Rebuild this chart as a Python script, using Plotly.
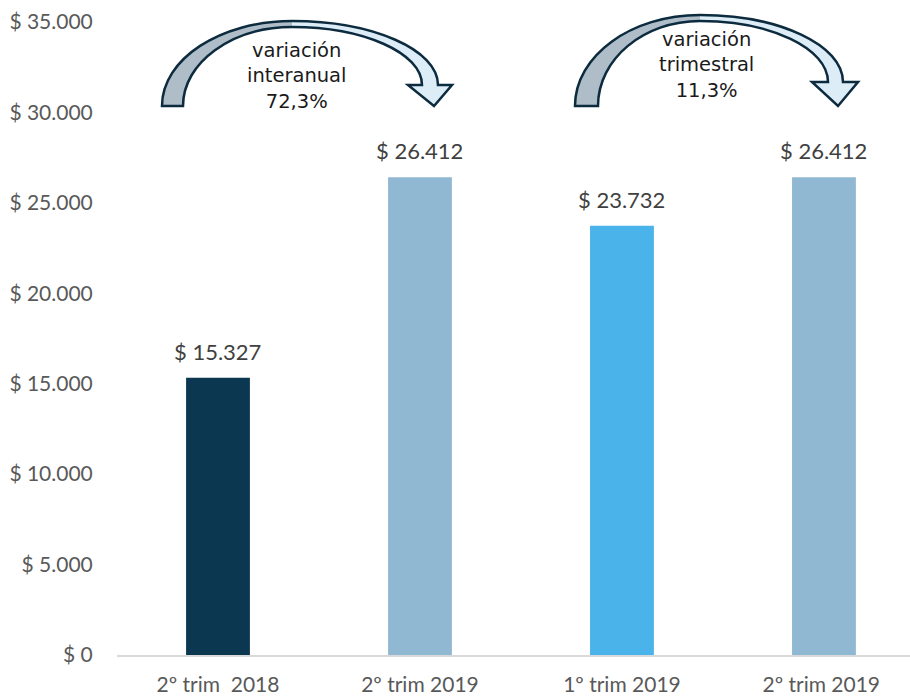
import plotly.graph_objects as go

categories = ["2º trim \u00a02018", "2º trim 2019", "1º trim 2019", "2º trim 2019 "]
values = [15327, 26412, 23732, 26412]
bar_colors = ["#0B3850", "#91B8D2", "#4AB3EA", "#91B8D2"]
tick_vals = [0, 5000, 10000, 15000, 20000, 25000, 30000, 35000]
tick_text = ["$ 0", "$ 5.000", "$ 10.000", "$ 15.000", "$ 20.000", "$ 25.000", "$ 30.000", "$ 35.000"]
bar_labels = ["$ " + f"{v:,}".replace(",", ".") for v in values]
arrow_texts = ["variación<br>interanual<br>72,3%", "variación<br>trimestral<br>11,3%"]

W, H = 910, 697
L, R, T, B = 117, 0, 22, 42
PW, PH = W - L - R, H - T - B

def P(px, py):
    return f"{(px - L) / PW:.5f},{(H - B - py) / PH:.5f}"

k = 0.5523

def arrow_paths(lo, li, bot, to, ti, cx, ro, ri, hy, wl, wr, tipx):
    left = (f"M {P(lo, bot)} C {P(lo, bot - k*(bot - to))} {P(cx - k*(cx - lo), to)} {P(cx, to)} "
            f"L {P(cx, ti)} C {P(cx - k*(cx - li), ti)} {P(li, bot - k*(bot - ti))} {P(li, bot)} Z")
    right = (f"M {P(cx, to)} C {P(cx + k*(ro - cx), to)} {P(ro, hy - k*(hy - to))} {P(ro, hy)} "
             f"L {P(wr, hy)} L {P(tipx, bot)} L {P(wl, hy)} L {P(ri, hy)} "
             f"C {P(ri, hy - k*(hy - ti))} {P(cx + k*(ri - cx), ti)} {P(cx, ti)} Z")
    outline = (f"M {P(lo, bot)} C {P(lo, bot - k*(bot - to))} {P(cx - k*(cx - lo), to)} {P(cx, to)} "
               f"C {P(cx + k*(ro - cx), to)} {P(ro, hy - k*(hy - to))} {P(ro, hy)} "
               f"L {P(wr, hy)} L {P(tipx, bot)} L {P(wl, hy)} L {P(ri, hy)} "
               f"C {P(ri, hy - k*(hy - ti))} {P(cx + k*(ri - cx), ti)} {P(cx, ti)} "
               f"C {P(cx - k*(cx - li), ti)} {P(li, bot - k*(bot - ti))} {P(li, bot)} Z")
    return left, right, outline

shapes = []
for params in [
    (162, 183, 106, 21, 27, 292, 438, 422, 85, 408, 452, 434),
    (575, 598, 106, 15, 21, 700, 843, 828, 82, 812, 858, 838),
]:
    left, right, outline = arrow_paths(*params)
    shapes.append(dict(type="path", xref="paper", yref="paper", path=left,
                       fillcolor="#AEBDC7", line=dict(width=0)))
    shapes.append(dict(type="path", xref="paper", yref="paper", path=right,
                       fillcolor="#DCEDF7", line=dict(width=0)))
    shapes.append(dict(type="path", xref="paper", yref="paper", path=outline,
                       fillcolor="rgba(0,0,0,0)", line=dict(color="#0D2B3E", width=2.5)))

fig = go.Figure()
fig.add_trace(go.Bar(x=categories, y=values, marker=dict(color=bar_colors, line=dict(width=0)),
                     hoverinfo="skip"))

annotations = []
for c, v, t in zip(categories, values, bar_labels):
    annotations.append(dict(x=c, y=v, xref="x", yref="y", text=t, showarrow=False,
                            yanchor="bottom", yshift=11,
                            font=dict(family="Lato", size=22, color="#404040")))
text_pos = [(296, 76), (706, 65)]
for (px, py), t in zip(text_pos, arrow_texts):
    annotations.append(dict(x=(px - L) / PW, y=(H - B - py) / PH, xref="paper", yref="paper",
                            text=t, showarrow=False, xanchor="center", yanchor="middle",
                            font=dict(family="DejaVu Sans", size=19.5, color="#1A1A1A")))

fig.update_layout(
    width=W, height=H,
    margin=dict(l=L, r=R, t=T, b=B, pad=0, autoexpand=False),
    paper_bgcolor="white", plot_bgcolor="white",
    bargap=0.684,
    showlegend=False,
    shapes=shapes,
    annotations=annotations,
    xaxis=dict(range=[-0.5, 3.426], showgrid=False, zeroline=False, automargin=False,
               showline=True, linecolor="#D9D9D9", linewidth=2,
               ticks="outside", ticklen=10, tickcolor="rgba(0,0,0,0)",
               tickfont=dict(family="Lato", size=21, color="#595959")),
    yaxis=dict(range=[0, 35000], tickvals=tick_vals, ticktext=tick_text, automargin=False,
               showgrid=False, zeroline=False, showline=False,
               ticks="outside", ticklen=19, tickcolor="rgba(0,0,0,0)",
               tickfont=dict(family="Lato", size=21, color="#595959")),
)

fig.write_html("out.html", config={"displayModeBar": False},
               post_script="document.body.style.margin='0';document.body.style.overflow='hidden';")
